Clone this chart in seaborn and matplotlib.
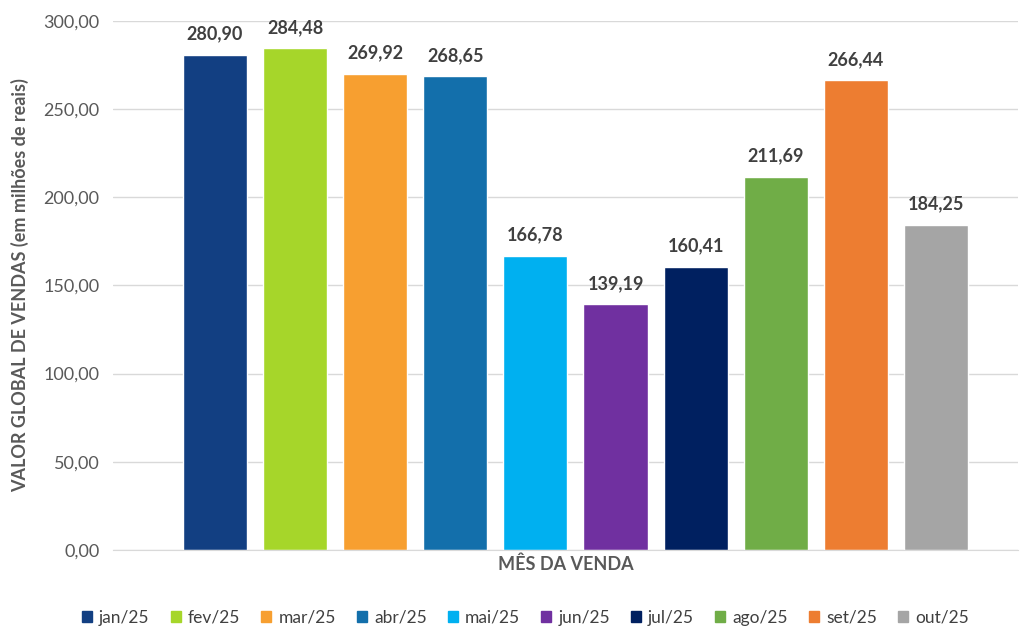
import pandas as pd
import matplotlib.pyplot as plt
import seaborn as sns

# Dados do gráfico
meses = ['jan/25', 'fev/25', 'mar/25', 'abr/25', 'mai/25',
         'jun/25', 'jul/25', 'ago/25', 'set/25', 'out/25']
valores = [280.90, 284.48, 269.92, 268.65, 166.78,
           139.19, 160.41, 211.69, 266.44, 184.25]
cores = ['#123f82', '#a6d62a', '#f79f30', '#136fab', '#00b0f0',
         '#7030a0', '#002060', '#70ad47', '#ed7d31', '#a5a5a5']

df = pd.DataFrame({'mes': meses, 'valor': valores})

sns.set_style('white')
plt.rcParams['font.family'] = ['Lato', 'DejaVu Sans']

fig = plt.figure(figsize=(10.3, 6.35), dpi=100)
ax = fig.add_axes([0.110, 0.134, 0.878, 0.833])

sns.barplot(data=df, x='mes', y='valor', hue='mes', palette=cores,
            width=0.8, legend=False, ax=ax, saturation=1)

ax.set_ylim(0, 300)
ax.set_xlim(-1.27, 10.02)
ax.set_yticks(range(0, 301, 50))
ax.set_yticklabels([f'{v},00' for v in range(0, 301, 50)],
                   fontsize=13, color='#595959')
ax.yaxis.grid(True, color='#d9d9d9', linewidth=1)
ax.set_axisbelow(True)
ax.set_xticks([])
for s in ['top', 'right', 'left']:
    ax.spines[s].set_visible(False)
ax.spines['bottom'].set_color('#d9d9d9')
ax.tick_params(axis='y', length=0, pad=10)

# Rótulos de valores
for i, v in enumerate(valores):
    ax.text(i, v + 7, f'{v:.2f}'.replace('.', ','), ha='center', va='bottom',
            fontsize=13, fontweight='bold', color='#404040')

ax.set_xlabel('MÊS DA VENDA', fontsize=13, fontweight='bold',
              color='#595959', labelpad=4)
ax.set_ylabel('VALOR GLOBAL DE VENDAS (em milhões de reais)', fontsize=13,
              fontweight='bold', color='#595959', labelpad=10)

handles = [plt.Rectangle((0, 0), 1, 1, color=c) for c in cores]
fig.legend(handles, meses, loc='lower center', ncol=10, frameon=False,
           bbox_to_anchor=(0.51, -0.01), fontsize=12.5, handlelength=0.6,
           handleheight=0.6, handletextpad=0.4, columnspacing=1.2,
           labelcolor='#404040')

plt.savefig('out.png', dpi=100)
